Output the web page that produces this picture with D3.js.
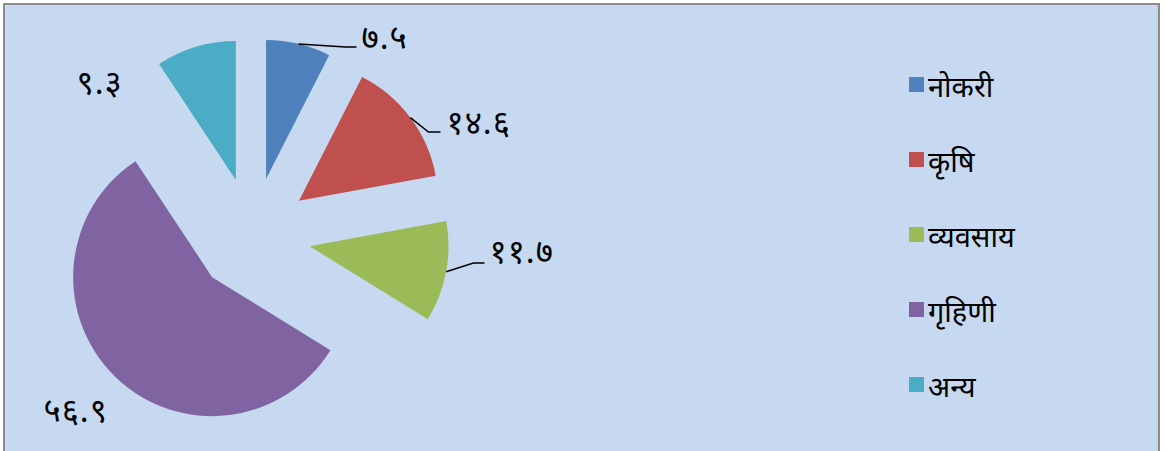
<!DOCTYPE html>
<html>
<head>
<meta charset="utf-8">
<script src="https://cdn.jsdelivr.net/npm/d3@7"></script>
<style>
  html, body { margin: 0; padding: 0; background: #fff; }
  svg { display: block; }
  text { font-family: "Noto Sans", "Lohit Devanagari", "FreeSans", sans-serif; fill: #000; }
</style>
</head>
<body>
<svg id="chart"></svg>
<script>
// data
const categories = ["नोकरी", "कृषि", "व्यवसाय", "गृहिणी", "अन्य"];
const values = [7.5, 14.6, 11.7, 56.9, 9.3];
const valueLabels = ["७.५", "१४.६", "११.७", "५६.९", "९.३"];
const colors = ["#4F81BD", "#C0504D", "#9BBB59", "#8064A2", "#4BACC6"];

const width = 1166, height = 451;
const svg = d3.select("#chart").attr("width", width).attr("height", height);

// background + frame
svg.append("rect")
    .attr("x", 4).attr("y", 4)
    .attr("width", 1155).attr("height", 460)
    .attr("fill", "#C6D9F1")
    .attr("stroke", "#8C8C8C")
    .attr("stroke-width", 2);

// pie setup
const cx = 252.5, cy = 235.5;
const radius = 139, explode = 58;

const pie = d3.pie().sort(null).value(d => d);
const arcs = pie(values);
const arc = d3.arc().innerRadius(0).outerRadius(radius);

const g = svg.append("g").attr("transform", `translate(${cx},${cy})`);

function offset(d, r) {
    const a = (d.startAngle + d.endAngle) / 2;
    return [Math.sin(a) * r, -Math.cos(a) * r];
}

g.selectAll("path.slice")
    .data(arcs)
    .join("path")
    .attr("class", "slice")
    .attr("d", arc)
    .attr("fill", (d, i) => colors[i])
    .attr("transform", d => {
        const [dx, dy] = offset(d, explode);
        return `translate(${dx},${dy})`;
    });

// label layout (relative to pie centre): text anchor and leader elbow
const labelPos = [
    { x: 109, y: -187, leader: [[93, -188.5], [104, -188.5]] },
    { x: 194, y: -102, leader: [[176, -103.5], [188, -103.5]] },
    { x: 237, y: 27,   leader: [[221, 27.5], [232, 27.5]] },
    { x: -209, y: 186, leader: null },
    { x: -176, y: -142, leader: null }
];

const line = d3.line();

arcs.forEach((d, i) => {
    const lp = labelPos[i];
    if (lp.leader) {
        const [sx, sy] = offset(d, explode + radius);
        g.append("path")
            .attr("d", line([[sx, sy]].concat(lp.leader)))
            .attr("fill", "none")
            .attr("stroke", "#000")
            .attr("stroke-width", 1.5);
    }
    g.append("text")
        .attr("x", lp.x)
        .attr("y", lp.y)
        .attr("font-size", 33)
        .attr("letter-spacing", 1)
        .text(valueLabels[i]);
});

// legend
const legend = svg.append("g").attr("transform", "translate(909,77)");
const rows = legend.selectAll("g")
    .data(categories)
    .join("g")
    .attr("transform", (d, i) => `translate(0,${i * 75})`);

rows.append("rect")
    .attr("width", 15).attr("height", 15)
    .attr("fill", (d, i) => colors[i]);

rows.append("text")
    .attr("x", 19)
    .attr("y", 20)
    .attr("font-size", 29)
    .text(d => d);
</script>
</body>
</html>
